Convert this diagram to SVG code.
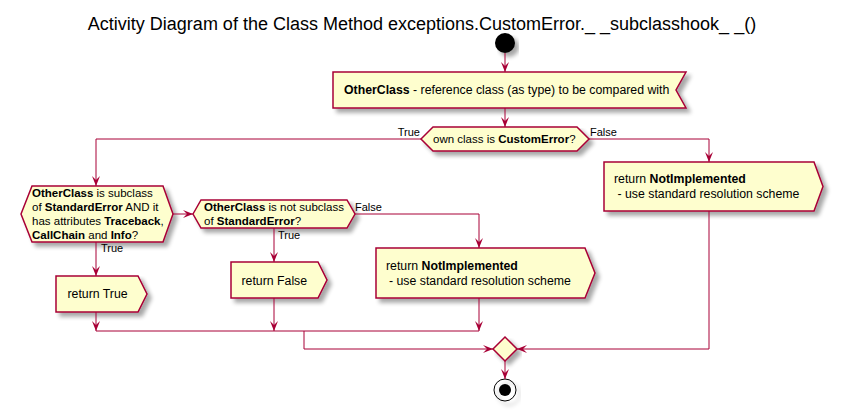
<svg xmlns="http://www.w3.org/2000/svg" width="844" height="411" viewBox="0 0 844 411">
<defs>
<filter id="sh" x="-10%" y="-10%" width="130%" height="150%">
<feGaussianBlur in="SourceAlpha" stdDeviation="2"/>
<feOffset dx="4" dy="4" result="o"/>
<feComponentTransfer><feFuncA type="linear" slope="0.35"/></feComponentTransfer>
<feMerge><feMergeNode/><feMergeNode in="SourceGraphic"/></feMerge>
</filter>
<marker id="ar" viewBox="0 0 10 10" refX="10" refY="5" markerWidth="10" markerHeight="10" markerUnits="userSpaceOnUse" orient="auto">
<path d="M0,1 L10,5 L0,9 L4,5 Z" fill="#A80036"/>
</marker>
</defs>
<style>
.n{fill:#FEFECE;stroke:#A80036;stroke-width:1.5;filter:url(#sh)}
.c{fill:none;stroke:#A80036;stroke-width:1}
.ca{fill:none;stroke:#A80036;stroke-width:1;marker-end:url(#ar)}
text{font-family:"Liberation Sans",Arial,sans-serif;font-size:11.5px;fill:#000}
.a{font-size:12.3px}
.b{font-weight:bold}
.t{font-size:18px}
.l{font-size:11px}
</style>
<text class="t" x="422" y="30" text-anchor="middle">Activity Diagram of the Class Method exceptions.CustomError._ _subclasshook_ _()</text>

<g id="start"><circle cx="505" cy="43" r="10" fill="#000" filter="url(#sh)"/></g>

<g id="input">
<polygon class="n" points="333,72 686,72 676,90 686,108 333,108"/>
<text class="a" x="344" y="94"><tspan class="b">OtherClass</tspan> - reference class (as type) to be compared with</text>
</g>

<g id="dec1">
<polygon class="n" points="421,139 433,127 577,127 589,139 577,151 433,151"/>
<text x="433" y="143">own class is <tspan class="b">CustomError</tspan>?</text>
</g>

<g id="retNI1">
<polygon class="n" points="604,162 814,162 823,186.5 814,211 604,211"/>
<text class="a" x="614" y="183">return <tspan class="b">NotImplemented</tspan></text>
<text class="a" x="617.5" y="197.5">- use standard resolution scheme</text>
</g>

<g id="dec2">
<polygon class="n" points="21,214 32,186 163,186 173,214 163,242 32,242"/>
<text x="32" y="197"><tspan class="b">OtherClass</tspan> is subclass</text>
<text x="32" y="211">of <tspan class="b">StandardError</tspan> AND it</text>
<text x="32" y="225">has attributes <tspan class="b">Traceback</tspan>,</text>
<text x="32" y="239"><tspan class="b">CallChain</tspan> and <tspan class="b">Info</tspan>?</text>
</g>

<g id="dec3">
<polygon class="n" points="193,214 201,200 347,200 355,214 347,228 201,228"/>
<text x="204" y="211"><tspan class="b">OtherClass</tspan> is not subclass</text>
<text x="204" y="225">of <tspan class="b">StandardError</tspan>?</text>
</g>

<g id="retTrue">
<polygon class="n" points="56,276 138,276 147,294 138,312 56,312"/>
<text class="a" x="67.5" y="298">return True</text>
</g>

<g id="retFalse">
<polygon class="n" points="231,262 318,262 327,280 318,298 231,298"/>
<text class="a" x="241.5" y="284.5">return False</text>
</g>

<g id="retNI2">
<polygon class="n" points="376,248 585,248 595,273 585,298 376,298"/>
<text class="a" x="386" y="270">return <tspan class="b">NotImplemented</tspan></text>
<text class="a" x="389" y="284.5">- use standard resolution scheme</text>
</g>

<g id="merge">
<polygon class="n" points="505,337 517,349 505,361 493,349"/>
</g>

<g id="stop">
<circle cx="505" cy="390" r="11" fill="none" stroke="#000" stroke-width="1" filter="url(#sh)"/>
<circle cx="505" cy="390" r="6" fill="#000"/>
</g>

<g id="connectors">
<path class="ca" d="M505,53 V72"/>
<path class="ca" d="M505,108 V127"/>
<path class="ca" d="M421,139 H96 V186"/>
<path class="ca" d="M589,139 H709 V162"/>
<path class="ca" d="M173,214 H193"/>
<path class="ca" d="M96,242 V276"/>
<path class="ca" d="M274,228 V262"/>
<path class="ca" d="M355,214 H479 V248"/>
<path class="ca" d="M96,312 V331"/>
<path class="ca" d="M274,298 V331"/>
<path class="ca" d="M479,298 V331"/>
<path class="c" d="M96,331 H479"/>
<path class="ca" d="M304,331 V349 H493"/>
<path class="ca" d="M709,211 V349 H517"/>
<path class="ca" d="M505,361 V379"/>
<text class="l" x="420" y="136" text-anchor="end">True</text>
<text class="l" x="590" y="136">False</text>
<text class="l" x="101" y="252">True</text>
<text class="l" x="278" y="239">True</text>
<text class="l" x="355" y="211">False</text>
</g>
</svg>
